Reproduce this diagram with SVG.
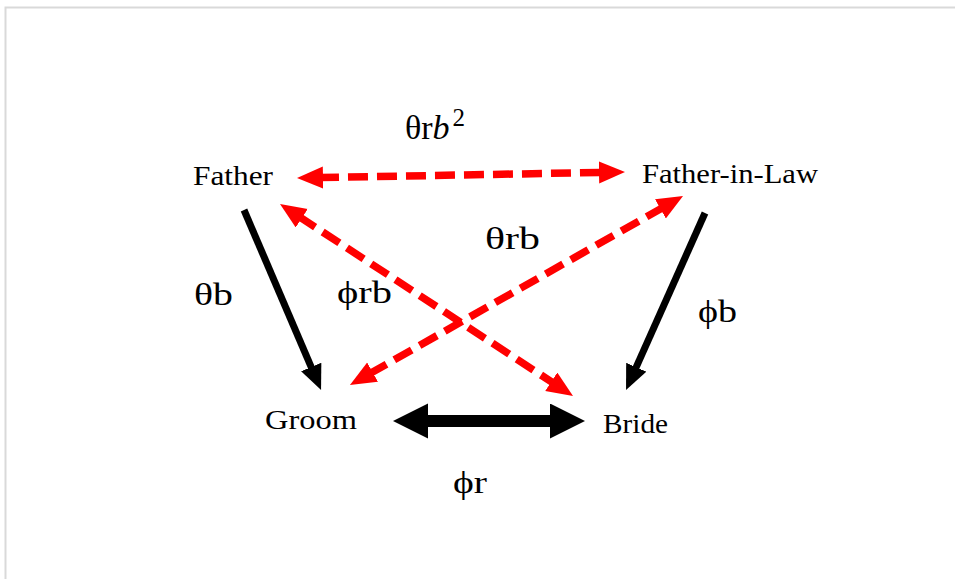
<svg xmlns="http://www.w3.org/2000/svg" width="955" height="579" viewBox="0 0 955 579">
<style>
.node{font-family:"Liberation Serif","Times New Roman",serif;font-size:27px;fill:#000}
.lbl{font-family:"Liberation Serif","Times New Roman",serif;font-size:31px;fill:#000}
.big{font-size:34px}
.sup{font-size:25px}
.red{stroke:#ff0000;stroke-width:7.5;stroke-dasharray:20 9;fill:none}
.blk{stroke:#000;stroke-width:7;fill:none}
</style>
<defs>
<marker id="rh" markerUnits="userSpaceOnUse" markerWidth="30" markerHeight="26" refX="4" refY="11" orient="auto-start-reverse" viewBox="0 0 30 26"><path d="M0,0 L26,11 L0,22 z" fill="#ff0000"/></marker>
<marker id="bh" markerUnits="userSpaceOnUse" markerWidth="30" markerHeight="26" refX="3" refY="11" orient="auto-start-reverse" viewBox="0 0 30 26"><path d="M0,0 L25,11 L0,22 z" fill="#000"/></marker>
<marker id="bth" markerUnits="userSpaceOnUse" markerWidth="40" markerHeight="40" refX="3" refY="17.5" orient="auto-start-reverse" viewBox="0 0 40 40"><path d="M0,0 L35,17.5 L0,35 z" fill="#000"/></marker>
</defs>
<rect x="0" y="0" width="955" height="579" fill="#fff"/>
<path d="M5.5,579 V7.5 H955" stroke="#d9d9d9" stroke-width="2" fill="none"/>
<g id="connectors">
<line class="red" x1="319" y1="177.6" x2="603" y2="172.4" marker-start="url(#rh)" marker-end="url(#rh)"/>
<line class="blk" x1="244" y1="210" x2="312.4" y2="369.8" marker-end="url(#bh)"/>
<line class="blk" x1="705" y1="213" x2="635" y2="369.9" marker-end="url(#bh)"/>
<line class="red" x1="298.4" y1="216.1" x2="554.6" y2="383.9" marker-start="url(#rh)" marker-end="url(#rh)"/>
<line class="red" x1="369.1" y1="374.1" x2="663.9" y2="206.9" marker-start="url(#rh)" marker-end="url(#rh)"/>
<line stroke="#000" stroke-width="12" x1="425" y1="421" x2="553" y2="421" marker-start="url(#bth)" marker-end="url(#bth)"/>
</g>
<g id="labels">
<text class="lbl big" x="405" y="139">θr<tspan font-style="italic">b</tspan><tspan class="sup" dy="-13" dx="3">2</tspan></text>
<text class="lbl" x="194" y="305" textLength="39" lengthAdjust="spacingAndGlyphs">θb</text>
<text class="lbl" x="337" y="303" textLength="55" lengthAdjust="spacingAndGlyphs">ϕrb</text>
<text class="lbl" x="485" y="249" textLength="55" lengthAdjust="spacingAndGlyphs">θrb</text>
<text class="lbl" x="698" y="322" textLength="39" lengthAdjust="spacingAndGlyphs">ϕb</text>
<text class="lbl" x="453" y="493" textLength="34" lengthAdjust="spacingAndGlyphs">ϕr</text>
</g>
<g id="father"><text class="node" x="193" y="185" textLength="80" lengthAdjust="spacingAndGlyphs">Father</text></g>
<g id="father-in-law"><text class="node" x="642" y="183" textLength="176" lengthAdjust="spacingAndGlyphs">Father-in-Law</text></g>
<g id="groom"><text class="node" x="265" y="429" textLength="92" lengthAdjust="spacingAndGlyphs">Groom</text></g>
<g id="bride"><text class="node" x="603" y="433" textLength="65" lengthAdjust="spacingAndGlyphs">Bride</text></g>
</svg>
